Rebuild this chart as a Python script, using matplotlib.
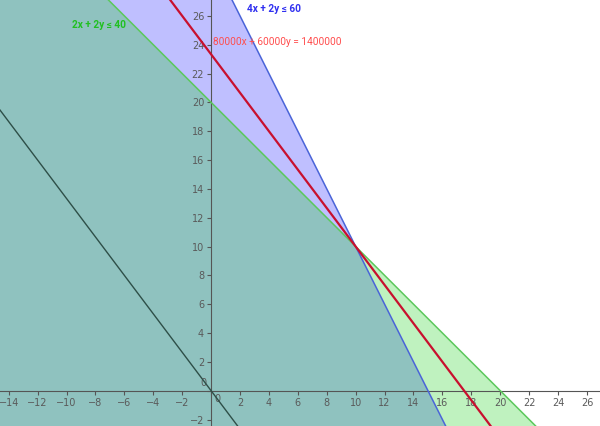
import numpy as np
import matplotlib
matplotlib.use("Agg")
import matplotlib.pyplot as plt

# constraints a*x + b*y <= c
green_coef = [2, 2, 40]
blue_coef = [4, 2, 60]
# objective line 80000x + 60000y = 1400000 and its level line through the origin
red_coef = [80000, 60000, 1400000]
zero_coef = [80000, 60000, 0]

green_label = "2x + 2y \u2264 40"
blue_label = "4x + 2y \u2264 60"
red_label = "80000x + 60000y = 1400000"

xmin, xmax = -14.6, 26.9
ymin, ymax = -2.45, 27.1
xticks = [t for t in range(-14, 27, 2)]
yticks = [t for t in range(-2, 27, 2)]

def line_y(coef, x):
    a, b, c = coef
    return (c - a * x) / b

fig = plt.figure(figsize=(6, 4.26), dpi=100)
ax = fig.add_axes([0, 0, 1, 1])
x = np.linspace(xmin, xmax, 500)

# shaded half-planes
ax.fill_between(x, ymin, line_y(blue_coef, x), color=(0, 0, 1), alpha=0.25, lw=0, zorder=1)
ax.fill_between(x, ymin, line_y(green_coef, x), color=(0, 0.8, 0), alpha=0.25, lw=0, zorder=1)

ax.plot(x, line_y(blue_coef, x), color="#4a64d8", lw=1.1, zorder=3)
ax.plot(x, line_y(green_coef, x), color="#5cc85c", lw=1.1, zorder=3)
ax.plot(x, line_y(red_coef, x), color="#c8102e", lw=1.6, zorder=4)
ax.plot(x, line_y(zero_coef, x), color="#2e4f48", lw=1.0, zorder=4)

ax.set_xlim(xmin, xmax)
ax.set_ylim(ymin, ymax)

# axes through the origin
for side in ["top", "right"]:
    ax.spines[side].set_visible(False)
ax.spines["left"].set_position("zero")
ax.spines["bottom"].set_position("zero")
ax.spines["left"].set_color("#555555")
ax.spines["bottom"].set_color("#555555")
ax.spines["left"].set_zorder(2)
ax.spines["bottom"].set_zorder(2)
ax.set_xticks(xticks)
ax.set_yticks(yticks)
ax.set_xticklabels(["" if t == 0 else str(t).replace("-", "\u2212") for t in xticks])
ax.set_yticklabels(["" if t == 0 else str(t).replace("-", "\u2212") for t in yticks])
ax.tick_params(direction="out", length=3, width=0.8, color="#555555",
               labelsize=7, labelcolor="#5a5a5a", pad=2)
ax.text(0.25, -0.55, "0", fontsize=7, color="#5a5a5a", ha="left", va="center", zorder=2)
ax.text(-0.3, 0.5, "0", fontsize=7, color="#5a5a5a", ha="right", va="center", zorder=2)

ax.text(2.5, 26.5, blue_label, color="#3030f0", fontsize=7.3, fontweight="bold",
        family="Roboto", ha="left", va="center", zorder=5)
ax.text(-9.6, 25.35, green_label, color="#20c020", fontsize=7.3, fontweight="bold",
        family="Roboto", ha="left", va="center", zorder=5)
ax.text(0.1, 24.2, red_label, color="#ff4d4d", fontsize=7.3,
        family="Roboto", ha="left", va="center", zorder=5)

plt.savefig("out.png", dpi=100)
plt.close()
